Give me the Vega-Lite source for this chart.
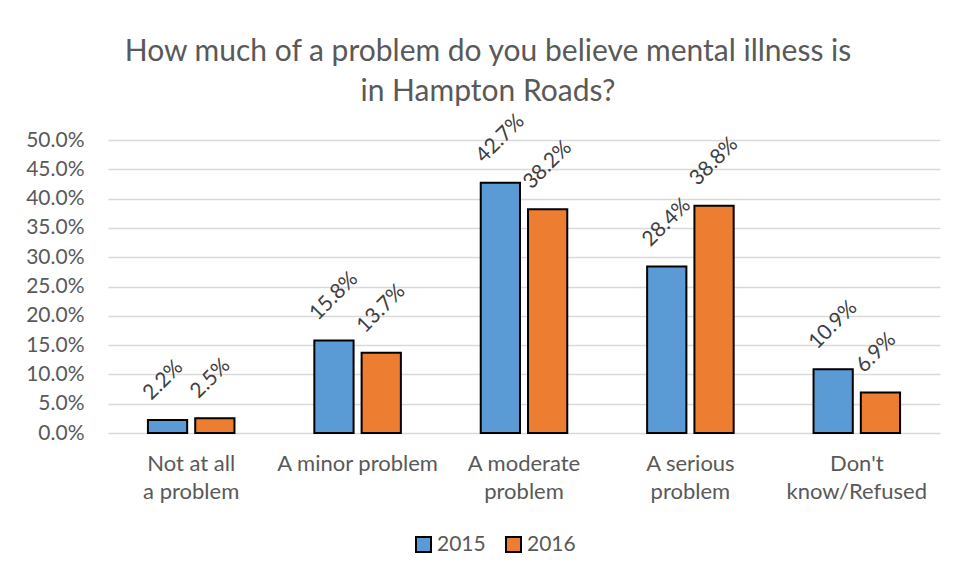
{
  "$schema": "https://vega.github.io/schema/vega-lite/v6.json",
  "width": 832,
  "height": 293,
  "autosize": "none",
  "padding": {"left": 108, "top": 140, "right": 14, "bottom": 145},
  "background": "white",
  "config": {
    "font": "Lato",
    "view": {"stroke": null}
  },
  "title": {
    "text": ["How much of a problem do you believe mental illness is", "in Hampton Roads?"],
    "fontSize": 30,
    "fontWeight": "normal",
    "color": "#595959",
    "lineHeight": 40,
    "anchor": "middle",
    "dx": -36,
    "offset": 3
  },
  "data": {
    "values": [
      {"category": "Not at all a problem", "year": "2015", "value": 0.022},
      {"category": "Not at all a problem", "year": "2016", "value": 0.025},
      {"category": "A minor problem", "year": "2015", "value": 0.158},
      {"category": "A minor problem", "year": "2016", "value": 0.137},
      {"category": "A moderate problem", "year": "2015", "value": 0.427},
      {"category": "A moderate problem", "year": "2016", "value": 0.382},
      {"category": "A serious problem", "year": "2015", "value": 0.284},
      {"category": "A serious problem", "year": "2016", "value": 0.388},
      {"category": "Don't know/Refused", "year": "2015", "value": 0.109},
      {"category": "Don't know/Refused", "year": "2016", "value": 0.069}
    ]
  },
  "encoding": {
    "x": {
      "field": "category",
      "type": "nominal",
      "sort": null,
      "scale": {"paddingInner": 0.48, "paddingOuter": 0.24},
      "axis": {
        "title": null,
        "labelAngle": 0,
        "labelFontSize": 22,
        "labelColor": "#595959",
        "labelPadding": 20,
        "labelLineHeight": 28,
        "labelExpr": "datum.value == 'Not at all a problem' ? ['Not at all', 'a problem'] : datum.value == 'A moderate problem' ? ['A moderate', 'problem'] : datum.value == 'A serious problem' ? ['A serious', 'problem'] : datum.value == \"Don't know/Refused\" ? [\"Don't\", 'know/Refused'] : datum.value",
        "domain": false,
        "ticks": false,
        "labelBaseline": "top"
      }
    },
    "xOffset": {
      "field": "year",
      "type": "nominal",
      "scale": {"paddingInner": 0.17, "paddingOuter": 0}
    },
    "y": {
      "field": "value",
      "type": "quantitative",
      "scale": {"domain": [0, 0.5], "nice": false},
      "axis": {
        "title": null,
        "format": ".1%",
        "values": [0, 0.05, 0.1, 0.15, 0.2, 0.25, 0.3, 0.35, 0.4, 0.45, 0.5],
        "labelFontSize": 21,
        "labelColor": "#595959",
        "labelPadding": 24,
        "domain": false,
        "ticks": false,
        "grid": true,
        "gridColor": "#D9D9D9",
        "gridWidth": 1.5
      }
    }
  },
  "layer": [
    {
      "mark": {"type": "bar", "stroke": "black", "strokeWidth": 2},
      "encoding": {
        "color": {
          "field": "year",
          "type": "nominal",
          "scale": {"domain": ["2015", "2016"], "range": ["#5B9BD5", "#ED7D31"]},
          "legend": {
            "title": null,
            "orient": "none",
            "legendX": 305,
            "legendY": 394,
            "direction": "horizontal",
            "symbolType": "square",
            "symbolSize": 225,
            "symbolStrokeColor": "black",
            "symbolStrokeWidth": 2,
            "labelFontSize": 21,
            "labelColor": "#595959",
            "columnPadding": 16,
            "labelOffset": 3
          }
        }
      }
    },
    {
      "mark": {
        "type": "text",
        "angle": -45,
        "align": "left",
        "baseline": "middle",
        "dx": 2,
        "dy": -31,
        "fontSize": 21,
        "color": "#404040"
      },
      "encoding": {
        "text": {"field": "value", "type": "quantitative", "format": ".1%"}
      }
    }
  ]
}
